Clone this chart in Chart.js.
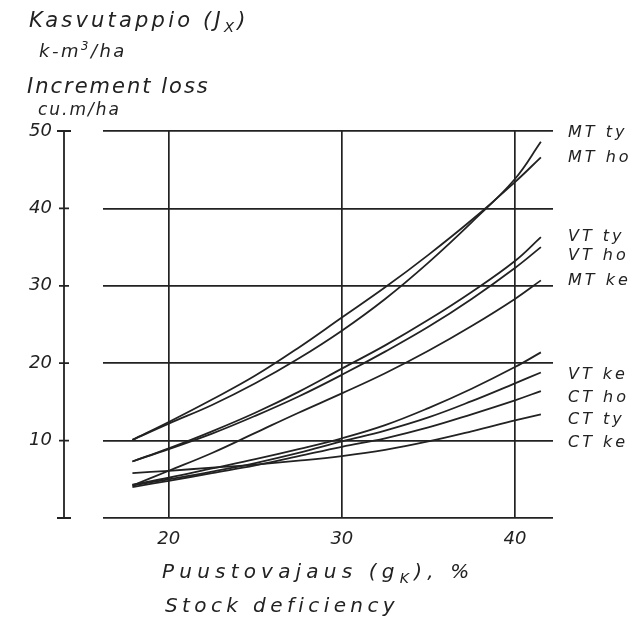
<!DOCTYPE html>
<html>
<head>
<meta charset="utf-8">
<script src="https://cdn.jsdelivr.net/npm/chart.js@4"></script>
<style>
  body { margin: 0; background: #fff; }
  #wrap { position: relative; width: 637px; height: 620px; }
  canvas { position: absolute; left: 0; top: 0; }
  .t { position: absolute; font-family: "DejaVu Sans", sans-serif; font-style: italic; color: #222; white-space: nowrap; }
  .t sub { font-size: 70%; vertical-align: -5px; }
  .t sup { font-size: 65%; vertical-align: 7px; }
</style>
</head>
<body>
<div id="wrap">
  <canvas id="chart" width="637" height="620"></canvas>
  <div class="t" style="left:29px;top:8px;font-size:21px;letter-spacing:3.2px;">Kasvutappio (J<sub>X</sub>)</div>
  <div class="t" style="left:39px;top:39px;font-size:18px;letter-spacing:2.5px;">k-m<sup>3</sup>/ha</div>
  <div class="t" style="left:27px;top:74px;font-size:21px;letter-spacing:2px;">Increment loss</div>
  <div class="t" style="left:38px;top:99px;font-size:17px;letter-spacing:2px;">cu.m/ha</div>
  <div class="t" style="left:162px;top:559px;font-size:20px;letter-spacing:5.2px;">Puustovajaus (g<sub>K</sub>), %</div>
  <div class="t" style="left:165px;top:593px;font-size:20px;letter-spacing:4.4px;">Stock deficiency</div>
</div>
<script>
// stock deficiency, %
const xs = [17.9, 20, 22.5, 25, 27.5, 30, 32.5, 35, 37.5, 40, 41.5];

// increment loss, m3/ha
const mtTy = [10.1, 12.2, 14.6, 17.4, 20.6, 24.2, 28.3, 33.0, 38.2, 43.8, 48.6];
const mtHo = [10.1, 12.4, 15.3, 18.4, 22.0, 25.9, 29.8, 34.0, 38.5, 43.4, 46.6];
const vtTy = [7.3, 9.0, 11.2, 13.6, 16.3, 19.3, 22.3, 25.6, 29.2, 33.2, 36.3];
const vtHo = [7.3, 8.9, 10.9, 13.2, 15.7, 18.5, 21.5, 24.7, 28.3, 32.3, 35.0];
const mtKe = [4.2, 6.1, 8.4, 11.0, 13.6, 16.1, 18.7, 21.6, 24.8, 28.3, 30.7];
const vtKe = [4.3, 5.2, 6.4, 7.6, 8.9, 10.3, 12.0, 14.2, 16.7, 19.5, 21.4];
const ctHo = [4.2, 5.0, 6.0, 7.1, 8.4, 9.9, 11.3, 13.0, 15.1, 17.4, 18.8];
const ctTy = [4.0, 4.8, 5.8, 6.8, 8.0, 9.2, 10.3, 11.7, 13.4, 15.2, 16.4];
const ctKe = [5.8, 6.1, 6.5, 6.9, 7.4, 8.0, 8.8, 9.9, 11.2, 12.6, 13.4];

const seriesNames = ['MT ty', 'MT ho', 'VT ty', 'VT ho', 'MT ke', 'VT ke', 'CT ho', 'CT ty', 'CT ke'];
const seriesValues = [mtTy, mtHo, vtTy, vtHo, mtKe, vtKe, ctHo, ctTy, ctKe];
const xTicks = [20, 30, 40];
const yTicks = [0, 10, 20, 30, 40, 50];

// where the hand-lettered names sit on the right (y in data units)
const nameAt = [49.7, 46.5, 36.3, 33.9, 30.7, 18.5, 15.5, 12.7, 9.7];

const ink = '#222';
const font = '"DejaVu Sans", sans-serif';

const datasets = seriesValues.map((vals, i) => ({
  label: seriesNames[i],
  data: xs.map((x, j) => ({ x: x, y: vals[j] })),
  borderColor: ink,
  borderWidth: 1.8,
  pointRadius: 0,
  fill: false,
  tension: 0.4
}));

const handDrawnAxis = {
  id: 'handDrawnAxis',
  afterDraw(chart) {
    const ctx = chart.ctx;
    const y = chart.scales.y;
    const ax = 64;
    ctx.save();
    ctx.strokeStyle = ink;
    ctx.lineWidth = 1.8;
    ctx.beginPath();
    ctx.moveTo(ax, y.getPixelForValue(0));
    ctx.lineTo(ax, y.getPixelForValue(50));
    yTicks.forEach(v => {
      const p = y.getPixelForValue(v);
      const w = (v === 0 || v === 50) ? 7 : 5;
      ctx.moveTo(ax - w, p);
      ctx.lineTo(ax + w, p);
    });
    ctx.stroke();

    ctx.fillStyle = ink;
    ctx.font = 'italic 16px ' + font;
    ctx.letterSpacing = '3px';
    ctx.textBaseline = 'middle';
    ctx.textAlign = 'left';
    seriesNames.forEach((name, i) => {
      ctx.fillText(name, chart.chartArea.right + 15, y.getPixelForValue(nameAt[i]));
    });
    ctx.restore();
  }
};

new Chart(document.getElementById('chart'), {
  type: 'line',
  data: { datasets: datasets },
  options: {
    responsive: false,
    animation: false,
    layout: { padding: { top: 131, right: 84, left: 0, bottom: 0 } },
    plugins: { legend: { display: false }, tooltip: { enabled: false } },
    scales: {
      x: {
        type: 'linear',
        min: 16.2,
        max: 42.2,
        afterBuildTicks: s => { s.ticks = xTicks.map(v => ({ value: v })); },
        afterFit: s => { s.height = 102; },
        grid: { color: ink, lineWidth: 1.7, drawTicks: false },
        border: { display: false },
        ticks: { color: ink, padding: 11, font: { family: font, style: 'italic', size: 18 } }
      },
      y: {
        min: 0,
        max: 50,
        afterBuildTicks: s => { s.ticks = yTicks.map(v => ({ value: v })); },
        afterFit: s => { s.width = 103; },
        grid: { color: ink, lineWidth: 1.7, drawTicks: false },
        border: { display: false },
        ticks: {
          color: ink,
          padding: 51,
          font: { family: font, style: 'italic', size: 18 },
          callback: v => (v === 0 ? '' : String(v))
        }
      }
    }
  },
  plugins: [handDrawnAxis]
});
</script>
</body>
</html>
